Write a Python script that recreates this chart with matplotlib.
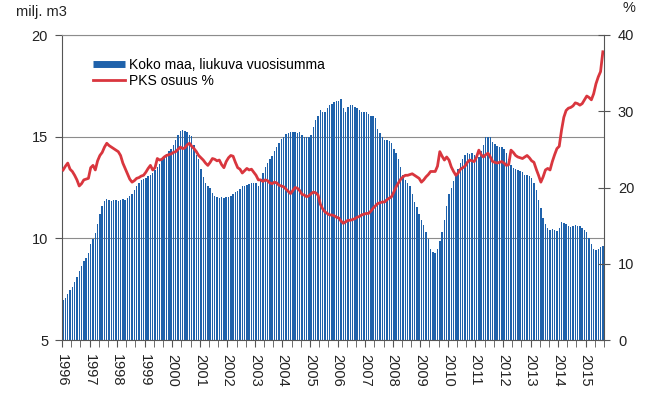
import matplotlib
matplotlib.use('Agg')
import matplotlib.pyplot as plt
from matplotlib.lines import Line2D

plt.rcParams['font.family'] = ['Liberation Sans', 'DejaVu Sans']

# Data: monthly, Jan 1996 - Aug 2015
vuodet = list(range(1996, 2016))

# Koko maa, liukuva vuosisumma (milj. m3)
koko_maa = [
    6.95, 7.05, 7.25, 7.45, 7.6, 7.85, 8.1, 8.4, 8.65, 8.9, 9.05, 9.3,           # 1996
    9.7, 9.95, 10.25, 10.7, 11.2, 11.6, 11.85, 11.95, 11.9, 11.85, 11.9, 11.9,   # 1997
    11.85, 11.9, 11.95, 11.9, 12.0, 12.1, 12.2, 12.4, 12.55, 12.7, 12.85, 12.9,  # 1998
    12.95, 13.05, 13.1, 13.2, 13.35, 13.5, 13.65, 13.85, 14.0, 14.15, 14.3, 14.4,  # 1999
    14.6, 14.85, 15.1, 15.3, 15.35, 15.3, 15.25, 15.1, 15.05, 14.6, 14.1, 13.9,  # 2000
    13.4, 13.0, 12.7, 12.55, 12.5, 12.25, 12.1, 12.05, 12.0, 12.05, 12.0, 12.05,  # 2001
    12.05, 12.1, 12.2, 12.3, 12.35, 12.45, 12.55, 12.55, 12.6, 12.65, 12.7, 12.7,  # 2002
    12.7, 12.55, 12.9, 13.2, 13.5, 13.7, 13.9, 14.05, 14.3, 14.5, 14.7, 14.9,    # 2003
    15.0, 15.15, 15.2, 15.25, 15.25, 15.25, 15.2, 15.25, 15.1, 15.0, 15.0, 15.0,  # 2004
    15.1, 15.5, 15.8, 16.0, 16.3, 16.2, 16.2, 16.4, 16.55, 16.6, 16.7, 16.75,    # 2005
    16.75, 16.85, 16.4, 16.2, 16.45, 16.55, 16.55, 16.45, 16.4, 16.3, 16.2, 16.2,  # 2006
    16.2, 16.1, 16.0, 16.0, 15.9, 15.4, 15.2, 15.0, 14.85, 14.85, 14.8, 14.7,    # 2007
    14.4, 14.2, 13.9, 13.5, 13.1, 12.85, 12.7, 12.55, 12.2, 11.8, 11.55, 11.2,   # 2008
    10.9, 10.65, 10.3, 9.95, 9.5, 9.35, 9.3, 9.5, 9.85, 10.3, 10.9, 11.6,        # 2009
    12.2, 12.5, 12.8, 13.1, 13.4, 13.7, 13.9, 14.1, 14.2, 14.15, 14.2, 14.1,     # 2010
    14.05, 14.0, 14.3, 14.6, 15.0, 15.0, 15.0, 14.75, 14.65, 14.55, 14.5, 14.5,  # 2011
    14.4, 14.2, 13.9, 13.6, 13.45, 13.4, 13.35, 13.3, 13.25, 13.1, 13.1, 13.05,  # 2012
    12.95, 12.7, 12.4, 11.9, 11.5, 11.0, 10.7, 10.5, 10.4, 10.45, 10.4, 10.35,   # 2013
    10.5, 10.8, 10.75, 10.7, 10.6, 10.55, 10.6, 10.65, 10.6, 10.6, 10.5, 10.4,   # 2014
    10.3, 10.0, 9.7, 9.5, 9.45, 9.5, 9.55, 9.6,                                  # 2015
]

# PKS osuus % (right axis)
pks_osuus = [
    22.3, 22.8, 23.2, 22.4, 22.1, 21.6, 21.0, 20.2, 20.5, 21.0, 21.1, 21.2,  # 1996
    22.6, 22.9, 22.3, 23.5, 24.2, 24.6, 25.3, 25.8, 25.5, 25.3, 25.1, 24.9,  # 1997
    24.7, 24.2, 23.2, 22.5, 21.8, 21.1, 20.7, 20.9, 21.2, 21.3, 21.5, 21.6,  # 1998
    22.0, 22.5, 22.9, 22.3, 22.6, 23.8, 23.6, 23.7, 24.0, 24.2, 24.3, 24.4,  # 1999
    24.6, 24.7, 25.0, 25.3, 25.1, 25.2, 25.6, 25.8, 25.4, 25.1, 24.7, 24.2,  # 2000
    23.9, 23.6, 23.2, 22.9, 23.3, 23.8, 23.7, 23.5, 23.6, 23.0, 22.6, 23.4,  # 2001
    23.9, 24.2, 24.1, 23.3, 22.6, 22.4, 21.9, 22.2, 22.5, 22.3, 22.4, 22.0,  # 2002
    21.6, 21.0, 21.0, 20.8, 21.0, 20.9, 20.6, 20.5, 20.7, 20.6, 20.3, 20.2,  # 2003
    20.1, 19.8, 19.5, 19.2, 19.6, 20.0, 19.9, 19.6, 19.1, 19.0, 18.8, 18.9,  # 2004
    19.2, 19.4, 19.3, 19.0, 17.8, 17.2, 16.8, 16.6, 16.4, 16.4, 16.3, 16.1,  # 2005
    16.0, 15.6, 15.3, 15.5, 15.7, 15.7, 15.8, 15.9, 16.1, 16.2, 16.4, 16.5,  # 2006
    16.6, 16.6, 16.9, 17.3, 17.6, 17.9, 18.0, 18.1, 18.1, 18.4, 18.6, 18.8,  # 2007
    19.4, 20.1, 20.6, 21.1, 21.4, 21.6, 21.6, 21.7, 21.8, 21.6, 21.4, 21.2,  # 2008
    20.7, 21.0, 21.4, 21.7, 22.1, 22.1, 22.1, 22.8, 24.7, 24.1, 23.6, 24.0,  # 2009
    23.6, 22.7, 22.1, 21.6, 21.9, 22.4, 22.6, 22.8, 23.3, 23.6, 23.5, 23.4,  # 2010
    24.0, 24.9, 24.3, 24.0, 24.3, 24.5, 24.0, 23.4, 23.3, 23.2, 23.3, 23.4,  # 2011
    23.2, 22.9, 23.0, 24.9, 24.6, 24.2, 24.0, 23.9, 23.8, 24.0, 24.2, 23.9,  # 2012
    23.5, 23.3, 22.4, 21.6, 20.7, 21.4, 22.3, 22.5, 22.3, 23.4, 24.3, 25.1,  # 2013
    25.4, 27.5, 29.2, 30.1, 30.4, 30.5, 30.7, 31.1, 31.0, 30.8, 31.0, 31.5,  # 2014
    32.0, 31.8, 31.5, 32.3, 33.6, 34.5, 35.2, 37.8,                          # 2015
]

kuukaudet = list(range(len(koko_maa)))
sininen = '#1f62ab'
punainen = '#d9363e'
harmaa = '#8c8c8c'

fig = plt.figure(figsize=(6.66, 3.98), dpi=100)
ax = fig.add_axes([62 / 666, 1 - 340 / 398, 542 / 666, 305 / 398])

ax.bar(kuukaudet, koko_maa, width=0.62, color=sininen, linewidth=0)
ax.set_xlim(-0.5, len(koko_maa) - 0.5)
ax.set_ylim(5, 20)
ax.set_yticks([5, 10, 15, 20])
ax.yaxis.grid(True, color=harmaa, linewidth=0.8)
ax.set_axisbelow(True)

# year labels every 12 months, tick marks every 4 months
ax.set_xticks([12 * k - 0.5 for k in range(len(vuodet))])
ax.set_xticklabels([str(v) for v in vuodet], rotation=-90)
ax.set_xticks([i - 0.5 for i in range(0, len(koko_maa) + 1, 4)], minor=True)
ax.tick_params(axis='x', which='both', direction='out', length=5,
               color='#555555', labelsize=10.5, pad=5, labelcolor='#222222')
ax.tick_params(axis='y', direction='out', length=5, color='#555555',
               labelsize=10.5, pad=5, labelcolor='#222222')

ax.spines['right'].set_visible(False)
ax.spines['top'].set_color(harmaa)
ax.spines['top'].set_linewidth(0.8)
ax.spines['left'].set_color('#555555')
ax.spines['bottom'].set_color('#555555')

ax2 = ax.twinx()
ax2.plot(kuukaudet, pks_osuus, color=punainen, linewidth=2)
ax2.set_ylim(0, 40)
ax2.set_yticks([0, 10, 20, 30, 40])
ax2.tick_params(axis='y', direction='inout', length=8, color='#555555',
                labelsize=10.5, pad=6, labelcolor='#222222')
for s in ['top', 'left', 'bottom']:
    ax2.spines[s].set_visible(False)
ax2.spines['right'].set_color('#555555')

handles = [Line2D([0], [0], color=sininen, linewidth=5, solid_capstyle='butt'),
           Line2D([0], [0], color=punainen, linewidth=2)]
ax2.legend(handles, ['Koko maa, liukuva vuosisumma', 'PKS osuus %'],
           loc='upper left', bbox_to_anchor=(0.057, 0.925), frameon=False,
           borderpad=0, borderaxespad=0, handlelength=2.3, handletextpad=0.3,
           labelspacing=0.15, fontsize=10)

fig.text(16 / 666, 1 - 12 / 398, 'milj. m3', ha='left', va='center',
         fontsize=10.5, color='#222222')
fig.text(629 / 666, 1 - 8 / 398, '%', ha='center', va='center',
         fontsize=10.5, color='#222222')

fig.savefig('out.png', dpi=100)
